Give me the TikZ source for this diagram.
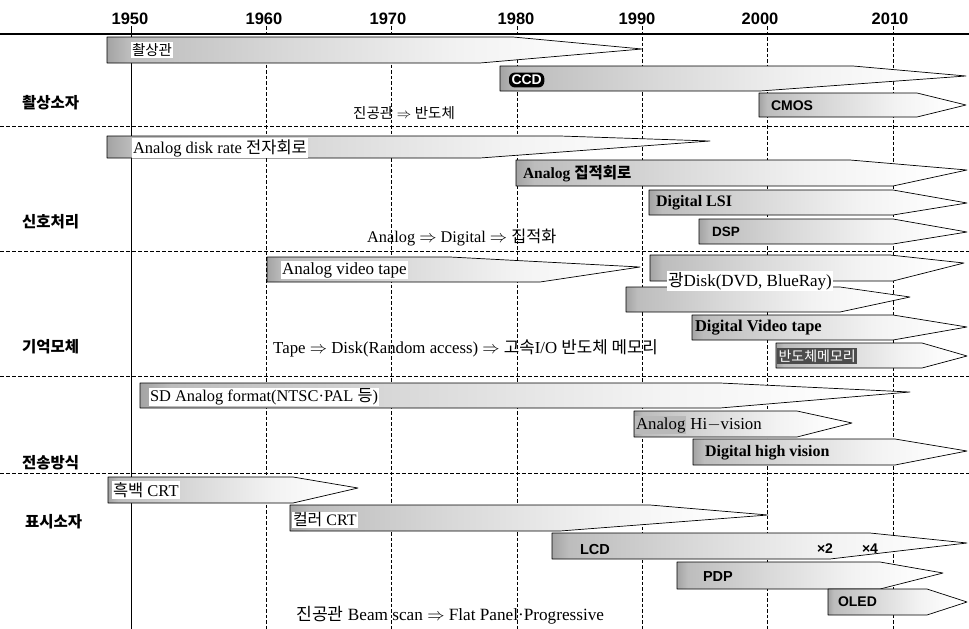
\documentclass[tikz,border=0pt]{standalone}
\usepackage{fontspec}
\setmainfont{Liberation Serif}
\newfontfamily\kr{Noto Sans CJK KR}
\newfontfamily\hs{Liberation Sans}
\newcommand{\fsz}[1]{\fontsize{#1}{#1}\selectfont}
\colorlet{shA}{gray!72}
\colorlet{shB}{gray!52}
\colorlet{shC}{gray!30}
\colorlet{shD}{gray!10}
\pgfdeclarehorizontalshading{barshade}{100bp}{color(0bp)=(shA); color(25bp)=(shA); color(27bp)=(shB); color(42bp)=(shC); color(58bp)=(shD); color(72bp)=(white); color(100bp)=(white)}
\newcommand{\tlb}[7]{\path[tlbar] (#1,#2) -- (#4,#2) -- (#6,#7) -- (#5,#3) -- (#1,#3) -- cycle;}
\begin{document}
\begin{tikzpicture}[x=1pt,y=-1pt,
  tlbar/.style={draw=black, line width=0.7pt, line join=round, shading=barshade},
  secline/.style={line width=0.8pt, dash pattern=on 4pt off 2pt},
  yrline/.style={line width=0.8pt, dash pattern=on 3.5pt off 2pt},
  yr/.style={font=\hs\bfseries\fsz{16.5}, inner sep=0pt},
  sec/.style={font=\kr\bfseries\fsz{15.5}, anchor=west, inner sep=0pt},
  lab/.style={anchor=west, inner sep=1pt, outer sep=0pt},
  wlab/.style={lab, fill=white},
  slab/.style={lab, font=\hs\bfseries\fsz{14}},
  blab/.style={lab, font=\bfseries\fsz{16}},
  anno/.style={anchor=west, inner sep=0pt, font=\fsz{16}}]
\useasboundingbox (0,0) rectangle (969,629);
\fill[white] (0,0) rectangle (969,629);
% years
\node[yr] (y50) at (130,19) {1950};
\node[yr] (y60) at (264,19) {1960};
\node[yr] (y70) at (388,19) {1970};
\node[yr] (y80) at (516,19) {1980};
\node[yr] (y90) at (637,19) {1990};
\node[yr] (y00) at (760,19) {2000};
\node[yr] (y10) at (890,19) {2010};
% grid
\coordinate (hl0) at (0,34); \coordinate (hr0) at (969,34);
\draw[line width=1.2pt] (hl0) -- (hr0);
\foreach \y in {126,251,376,473} {\draw[secline] (0,\y) -- (969,\y);}
\draw[line width=1pt] (131,26) -- (131,629);
\foreach \x in {266,391,517,642,767,893} {\draw[yrline] (\x,26) -- (\x,629);}
% section labels
\node[sec] (s1) at (22,103) {촬상소자};
\node[sec] (s2) at (22,222) {신호처리};
\node[sec] (s3) at (22,347) {기억모체};
\node[sec] (s4) at (22,463) {전송방식};
\node[sec] (s5) at (25,522) {표시소자};
% bars
\tlb{107}{37}{63}{513}{480}{642}{49}
\tlb{500}{66}{91}{853}{760}{966}{76}
\tlb{759}{93}{117}{917}{917}{966}{105}
\tlb{107}{136}{158}{560}{480}{710}{141}
\tlb{516}{160}{186}{850}{893}{967}{170}
\tlb{649}{190}{215}{893}{893}{967}{203}
\tlb{699}{219}{244}{893}{893}{967}{232}
\tlb{267}{257}{282}{450}{540}{640}{267}
\tlb{626}{287}{312}{840}{840}{910}{297}
\tlb{650}{255}{281}{890}{893}{964}{263}
\tlb{692}{315}{340}{893}{893}{967}{327}
\tlb{776}{343}{368}{922}{922}{967}{356}
\tlb{140}{383}{408}{720}{720}{910}{392}
\tlb{634}{411}{437}{797}{797}{852}{423}
\tlb{693}{439}{465}{895}{895}{967}{451}
\tlb{108}{477}{503}{293}{293}{358}{488}
\tlb{290}{505}{531}{650}{560}{768}{515}
\tlb{552}{533}{559}{870}{830}{967}{543}
\tlb{677}{562}{589}{880}{880}{943}{573}
\tlb{828}{589}{615}{927}{927}{967}{602}
% labels in bars
\node[wlab, font=\kr\fsz{14.5}] (b1) at (131,50) {촬상관};
\node[lab, font=\hs\bfseries\fsz{14}, fill=black, text=white, rounded corners=6pt, inner sep=2.5pt] (b2) at (509,80) {CCD};
\node[slab] (b3) at (770,106) {CMOS};
\node[anno, font=\fsz{14.5}] (a1) at (353,113) {{\kr 진공관} $\Rightarrow$ {\kr 반도체}};
\node[wlab, font=\fsz{16.5}] (b4) at (132,148) {Analog disk rate {\kr 전자회로}};
\node[blab, font=\bfseries\fsz{15.5}] (b5) at (522,174) {Analog {\kr 집적회로}};
\node[blab] (b6) at (655,203) {Digital LSI};
\node[slab, font=\hs\bfseries\fsz{13.5}] (b7) at (711,232) {DSP};
\node[anno, font=\fsz{16.3}] (a2) at (367,238) {Analog $\Rightarrow$ Digital $\Rightarrow$ {\kr 집적화}};
\node[wlab, font=\fsz{17}] (b8) at (281,270) {Analog video tape};
\node[wlab, font=\fsz{17}] (b9) at (667,281) {{\kr 광}Disk(DVD, BlueRay)};
\node[blab, font=\bfseries\fsz{16.5}] (b10) at (694,328) {Digital Video tape};
\node[lab, font=\kr\fsz{14}, fill=gray!60!black, text=white, inner sep=1.5pt] (b11) at (777,356) {반도체메모리};
\node[anno, font=\fsz{16.8}] (a3) at (273,348) {Tape $\Rightarrow$ Disk(Random access) $\Rightarrow$ {\kr 고속}I/O {\kr 반도체 메모리}};
\node[wlab, font=\fsz{16.4}] (b12) at (149,397) {SD Analog format(NTSC·PAL {\kr 등})};
\node[lab, font=\fsz{16.8}, fill=gray!55, inner sep=1pt] (b13) at (635,425) {Analog};
\node[lab, font=\fsz{16.8}, xshift=3pt] (b13b) at (b13.east) {Hi$-$vision};
\node[blab] (b14) at (704,453) {Digital high vision};
\node[wlab, font=\fsz{16.5}] (b15) at (112,490) {{\kr 흑백} CRT};
\node[wlab, font=\fsz{16}] (b16) at (292,520) {{\kr 컬러} CRT};
\node[slab, font=\hs\bfseries\fsz{14.5}] (b17) at (579,550) {LCD};
\node[slab] (x2) at (816,549) {×2};
\node[slab] (x4) at (861,549) {×4};
\node[slab, font=\hs\bfseries\fsz{14.5}] (b18) at (702,577) {PDP};
\node[slab] (b19) at (837,602) {OLED};
\node[anno, font=\fsz{17.2}] (a4) at (296,615) {{\kr 진공관} Beam scan $\Rightarrow$ Flat Panel·Progressive};
\end{tikzpicture}
\end{document}
